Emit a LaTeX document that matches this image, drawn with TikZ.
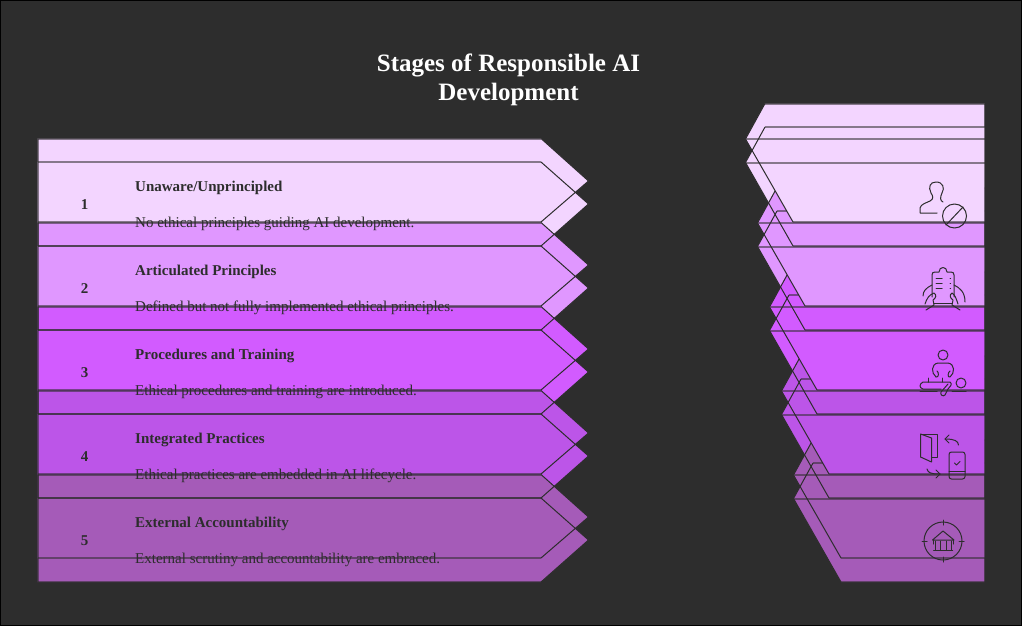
\documentclass[tikz,border=0pt]{standalone}
\usepackage{fontspec}
\setmainfont{Liberation Serif}
\usepackage{tikz}
\definecolor{page}{HTML}{2D2D2D}
\definecolor{rowa}{HTML}{F3D5FF}
\definecolor{rowb}{HTML}{E097FF}
\definecolor{rowc}{HTML}{D25BFF}
\definecolor{rowd}{HTML}{BC55E8}
\definecolor{rowe}{HTML}{A55BB8}
\tikzstyle{edge} = [draw=page, line width=1pt, line join=bevel]
\tikzstyle{rule} = [draw=page, draw opacity=0.55, line width=2pt]
\tikzstyle{icon} = [draw=page, line width=1pt, line cap=round, line join=round]
\tikzstyle{title} = [text=white, font=\bfseries\fontsize{25}{29}\selectfont, align=center]
\tikzstyle{num} = [text=page, font=\bfseries\fontsize{15}{18}\selectfont]
\tikzstyle{head} = [text=page, anchor=base west, inner sep=0pt, font=\bfseries\fontsize{15}{18}\selectfont]
\tikzstyle{desc} = [text=page, anchor=base west, inner sep=0pt, font=\fontsize{15}{18}\selectfont]

\begin{document}
\begin{tikzpicture}[x=1pt, y=-1pt]
\useasboundingbox (0,0) rectangle (1022,626);
\filldraw[page, draw=black, line width=2pt] (0,0) rectangle (1022,626);

\node (title) [title] at (508.5,80) {Stages of Responsible AI\\Development};

% Left side: back plates first
\foreach \i/\col in {1/rowa,2/rowb,3/rowc,4/rowd,5/rowe} {
  \pgfmathsetmacro{\dy}{84*(\i-1)}
  \begin{scope}[shift={(0,\dy)}]
    \fill[\col] (37.5,162) -- (541,162) -- (588.5,204) -- (541,246) -- (37.5,246) -- cycle;
  \end{scope}
}
\foreach \i/\col in {5/rowe,4/rowd,3/rowc,2/rowb,1/rowa} {
  \pgfmathsetmacro{\dy}{84*(\i-1)}
  \begin{scope}[shift={(0,\dy)}]
    \fill[\col] (37.5,138.5) -- (541,138.5) -- (588.5,181) -- (541,222) -- (37.5,222) -- cycle;
    \draw[edge] (541,138.5) -- (588.5,181) -- (541,222);
    \draw[edge] (541,162) -- (588.5,204) -- (541,246);
    \draw[rule] (37.5,138.5) -- (541,138.5);
    \draw[rule] (37.5,222) -- (541,222);
    \draw[rule] (37.5,162) -- (541,162);
    \draw[rule] (37.5,246) -- (541,246);
    \draw[rule] (37.5,138.5) -- (37.5,246);
  \end{scope}
}

% Right side: back plates first
\foreach \i/\col in {1/rowa,2/rowb,3/rowc,4/rowd,5/rowe} {
  \pgfmathsetmacro{\dx}{12*(\i-1)}
  \pgfmathsetmacro{\dy}{84*(\i-1)}
  \begin{scope}[shift={(0,\dy)}]
    \fill[\col] ({765+\dx},127) -- (984.5,127) -- (984.5,246) -- ({793+\dx},246) -- ({745.5+\dx},162.5) -- cycle;
  \end{scope}
}
\foreach \i/\col in {5/rowe,4/rowd,3/rowc,2/rowb,1/rowa} {
  \pgfmathsetmacro{\dx}{12*(\i-1)}
  \pgfmathsetmacro{\dy}{84*(\i-1)}
  \begin{scope}[shift={(0,\dy)}]
    \fill[\col] ({765+\dx},103.5) -- (984.5,103.5) -- (984.5,222) -- ({793+\dx},222) -- ({745.5+\dx},139) -- cycle;
    \draw[edge] ({793+\dx},222) -- ({745.5+\dx},139) -- ({765+\dx},103.5);
    \draw[edge] ({793+\dx},246) -- ({745.5+\dx},162.5) -- ({765+\dx},127);
    \draw[rule] ({765+\dx},103.5) -- (984.5,103.5);
    \draw[rule] ({765+\dx},127) -- (984.5,127);
    \draw[rule] ({745.5+\dx},139) -- (984.5,139);
    \draw[rule] ({745.5+\dx},162.5) -- (984.5,162.5);
    \draw[rule] ({793+\dx},222) -- (984.5,222);
    \draw[rule] ({793+\dx},246) -- (984.5,246);
    \draw[rule] (984.5,103.5) -- (984.5,246);
  \end{scope}
}

% Texts
\foreach \i/\name/\text in {
  1/Unaware\slash Unprincipled/No ethical principles guiding AI development.,
  2/Articulated Principles/Defined but not fully implemented ethical principles.,
  3/Procedures and Training/Ethical procedures and training are introduced.,
  4/Integrated Practices/Ethical practices are embedded in AI lifecycle.,
  5/External Accountability/External scrutiny and accountability are embraced.} {
  \pgfmathsetmacro{\dy}{84*(\i-1)}
  \begin{scope}[shift={(0,\dy)}]
    \node (num\i) [num] at (84.5,204.5) {\i};
    \node (head\i) [head] at (135,191) {\name};
    \node (desc\i) [desc] at (135,227) {\text};
  \end{scope}
}

% Icon 1: person and ban sign
\draw[icon] (937,213) -- (920,213) -- (920,208) .. controls (921,204) and (926,203) .. (930,201)
  .. controls (934,199) and (933,196) .. (931,193) .. controls (928,187) and (930,182) .. (936,182)
  .. controls (943,182) and (945,188) .. (942,193) .. controls (940,197) and (940,201) .. (943,202);
\draw[icon] (954.5,216) circle (12);
\draw[icon] (946,225) -- (963,207);

% Icon 2: clipboard in hands
\draw[icon] (932,297) -- (932,275) .. controls (932,273) and (933,272) .. (935,272) -- (939,272)
  .. controls (939,266) and (947,266) .. (947,272) -- (951,272) .. controls (953,272) and (954,273) .. (954,275) -- (954,297);
\draw[icon] (934,303) -- (952,303);
\foreach \ly in {278,283,288} {
  \draw[icon] (936,\ly) -- (942,\ly);
  \draw[icon] (950,\ly) -- (950.5,\ly);
}
\draw[icon] (932,285) .. controls (926,288) and (923,291) .. (923,296);
\draw[icon] (954,285) .. controls (960,288) and (965,292) .. (965,302);
\draw[icon] (925,304) .. controls (927,298) and (929,295) .. (934,293) .. controls (937,295) and (936,298) .. (933,300) -- (934,305) -- (926,310);
\draw[icon] (958,304) .. controls (956,298) and (955,295) .. (952,293) .. controls (949,295) and (950,298) .. (953,300) -- (952,305) -- (960,310);

% Icon 3: person at a table
\draw[icon] (943,355) circle (5);
\draw[icon] (936,377) .. controls (931,373) and (931,364) .. (938,363) -- (948,363) .. controls (955,364) and (955,373) .. (950,377)
  .. controls (947,378) and (948,372) .. (950,371);
\draw[icon] (937,371) .. controls (939,372) and (939,378) .. (936,377);
\draw[icon] (928,382) -- (923,382) .. controls (919,384) and (919,388) .. (923,389) -- (941,389);
\draw[icon] (928,382) -- (950,382) .. controls (953,384) and (950,387) .. (948,389) -- (945,395) .. controls (943,397) and (940,395) .. (941,392) -- (948,384);
\draw[icon] (928,378) -- (928,382);
\draw[icon] (942,378) -- (942,382);
\draw[icon] (961,383) circle (5);
\draw[icon] (920,391.5) -- (937,391.5);
\draw[icon] (952,391.5) -- (966,391.5);

% Icon 4: folder, phone and arrows
\draw[icon] (920.5,434) -- (937,434) -- (937,457) -- (931.5,457);
\draw[icon] (920.5,434) -- (931.5,438) -- (931.5,462) -- (920.5,457) -- cycle;
\draw[icon] (958.5,445) .. controls (958,441) and (955,439) .. (945,439);
\draw[icon] (949,435) -- (945,439) -- (949,443);
\draw[icon] (927,469) .. controls (928,473) and (931,474) .. (940,474);
\draw[icon] (936,470) -- (940,474) -- (936,478);
\draw[icon, rounded corners=2.5pt] (949,452) rectangle (965,479);
\draw[icon] (949,471) -- (965,471);
\draw[icon] (954.5,463) -- (956.5,465) -- (960,461.5);

% Icon 5: bank in a target
\draw[icon] (943,541) circle (19);
\draw[icon] (943,520) -- (943,525);
\draw[icon] (943,557) -- (943,562);
\draw[icon] (922,541) -- (927,541);
\draw[icon] (959,541) -- (964,541);
\draw[icon] (932.5,540) -- (943,531) -- (954,540) -- cycle;
\draw[icon] (933,540) -- (933,544);
\draw[icon] (953,540) -- (953,544);
\foreach \cx in {935,940,946,951} {
  \draw[icon] (\cx,541) -- (\cx,550);
}
\draw[icon] (933.5,550.5) -- (952.5,550.5);
\end{tikzpicture}
\end{document}
